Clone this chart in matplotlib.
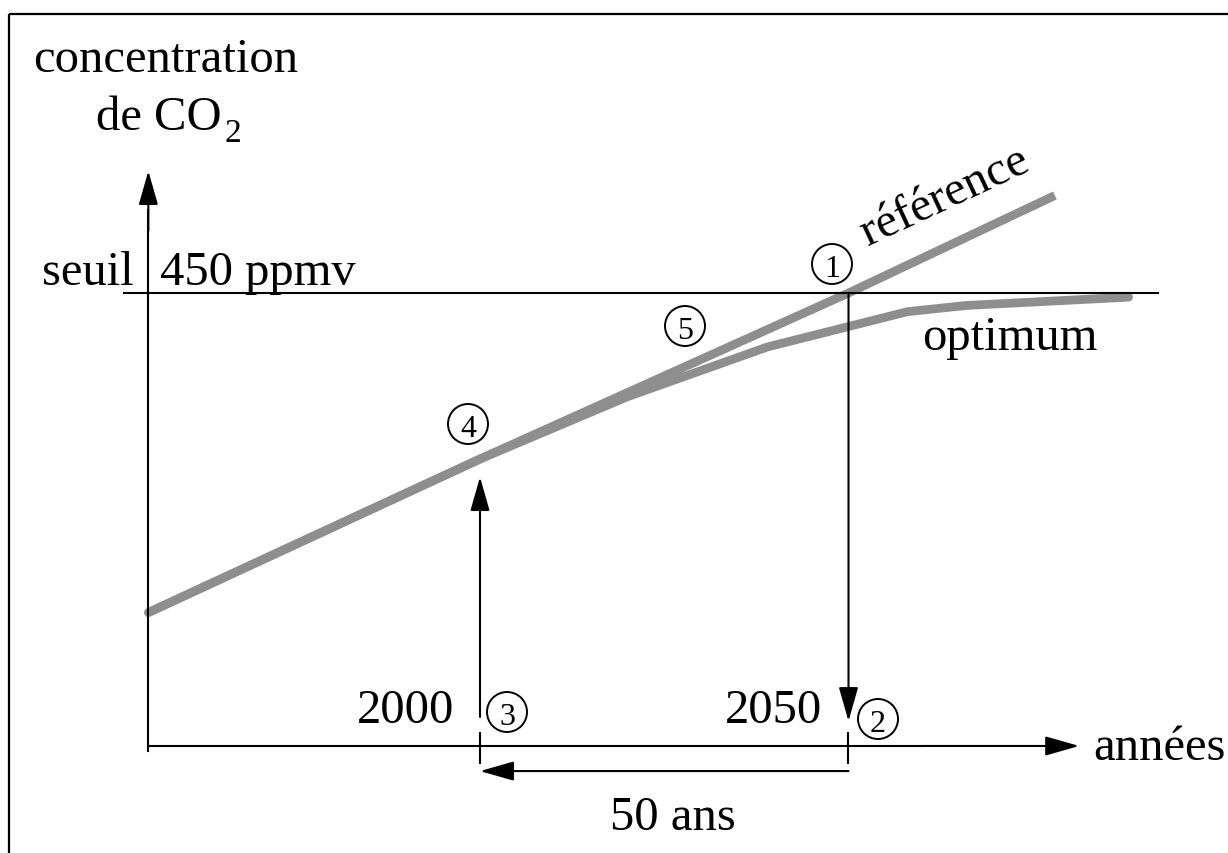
import matplotlib
matplotlib.use('Agg')
import matplotlib.pyplot as plt
import matplotlib.transforms as mtransforms
from matplotlib.patches import Circle, Rectangle, FancyArrowPatch

plt.rcParams['font.family'] = ['Liberation Serif', 'DejaVu Serif']

# scénarios (années, concentration en ppmv)
annees_ref = [1955, 2000, 2050, 2078]
conc_ref = [296, 370, 450, 497]
annees_opt = [1955, 2000, 2020, 2039, 2058, 2066, 2088]
conc_opt = [296, 370, 400, 424, 441, 444, 448]
seuil = 450
an_debut = 2000
an_fin = 2050

GRIS = '#8e8e8e'
W, H = 1228, 854
fig = plt.figure(figsize=(W / 100, H / 100), dpi=100)
ax = fig.add_axes([0, 0, 1, 1])
ax.set_xlim(2000 - 480 / 7.37, 2000 + 748 / 7.37)
ax.set_ylim(450 - 560 / 2.075, 450 + 294 / 2.075)
ax.axis('off')

# repère en pixels (origine en haut à gauche) pour les textes
pix = mtransforms.Affine2D().scale(1 / W, -1 / H).translate(0, 1) + fig.transFigure


def fleche(x0, y0, x1, y1):
    ax.add_patch(FancyArrowPatch((x0, y0), (x1, y1),
                                 arrowstyle='-|>,head_length=21,head_width=6',
                                 mutation_scale=1, lw=1.5, color='black',
                                 shrinkA=0, shrinkB=0, zorder=4))


# cadre
ax.add_patch(Rectangle((9, 15), 1400, 1000, transform=pix, fill=False,
                       lw=1.6, color='black'))

# courbes
ax.plot(annees_ref, conc_ref, color=GRIS, lw=6.3, solid_capstyle='butt', zorder=2)
ax.plot(annees_opt, conc_opt, color=GRIS, lw=6.3, solid_capstyle='round',
        solid_joinstyle='round', zorder=2)

# axes
x0, y0 = 1955, 231.7
ax.plot([x0, x0], [229.3, 490], color='black', lw=1.5, zorder=3)
fleche(x0, 480, x0, 508.8)
ax.plot([x0, 2060], [y0, y0], color='black', lw=1.5, zorder=3)
fleche(2060, y0, 2081.3, y0)

# seuil
ax.plot([1951.7, 2092.0], [seuil, seuil], color='black', lw=1.5, zorder=3)

# 2050 -> 2000
fleche(an_fin, seuil, an_fin, 243.7)
fleche(an_debut, 245.7, an_debut, 361.3)
for a in (an_debut, an_fin):
    ax.plot([a, a], [237.95, 223.5], color='black', lw=1.5, zorder=3)
fleche(an_fin, 219.6, an_debut, 219.6)

# textes
fs = 35
kw = dict(transform=pix, fontsize=fs, va='baseline')
ax.text(33, 72, 'concentration', ha='left', **kw)
ax.text(96, 130, 'de CO', ha='left', **kw)
ax.text(224, 142, '2', ha='left', transform=pix, fontsize=24, va='baseline')
ax.text(42, 285, 'seuil', ha='left', **kw)
ax.text(160, 285, '450 ppmv', ha='left', **kw)
ax.text(868, 246, 'référence', ha='left', rotation=25, rotation_mode='anchor', **kw)
ax.text(922, 350, 'optimum', ha='left', **kw)
ax.text(357, 723, '2000', ha='left', **kw)
ax.text(725, 723, '2050', ha='left', **kw)
ax.text(673, 830, '50 ans', ha='center', **kw)
ax.text(1093, 760, 'années', ha='left', **kw)

# numéros cerclés
cercles = [('1', 832, 265), ('2', 878, 720), ('3', 507, 713),
           ('4', 468, 425), ('5', 685, 327)]
for n, cx, cy in cercles:
    ax.add_patch(Circle((cx, cy), 20, transform=pix, fill=False, lw=1.4,
                        color='black', zorder=5))
    ax.text(cx, cy + 1, n, transform=pix, fontsize=23, ha='center',
            va='center_baseline', zorder=5)

fig.savefig('out.png', dpi=100)
